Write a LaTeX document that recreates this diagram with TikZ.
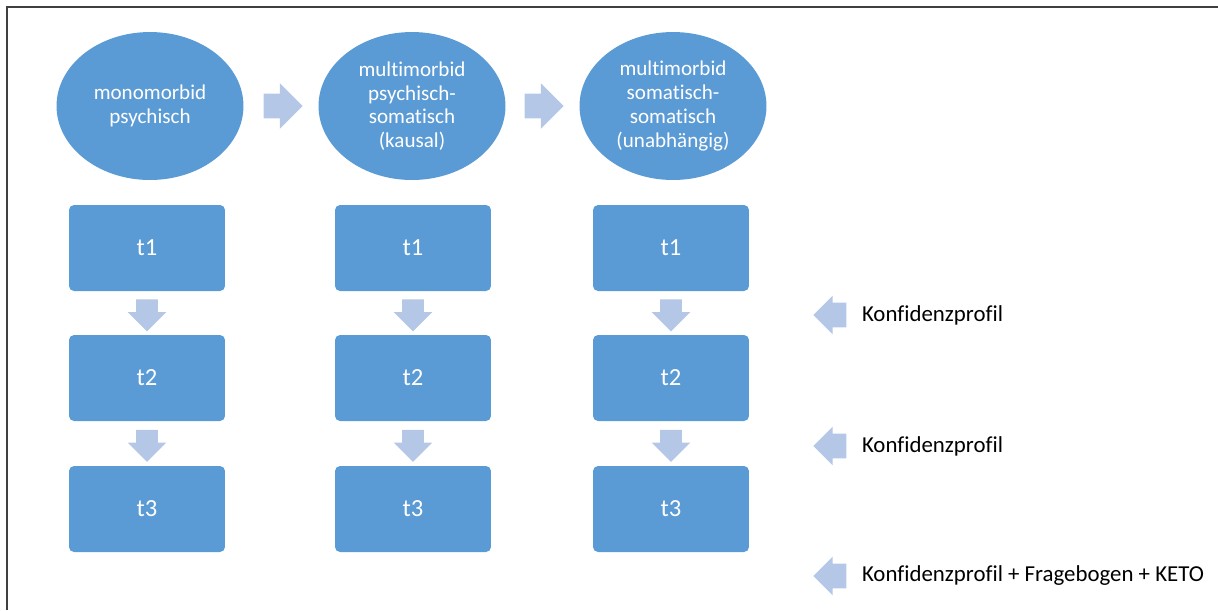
\documentclass[tikz,border=0pt]{standalone}
\usepackage{fontspec}
\setmainfont{Carlito}[Ligatures=NoCommon]
\usetikzlibrary{shapes.geometric,shapes.arrows,positioning,calc}

\definecolor{boxblue}{RGB}{91,155,213}
\definecolor{arrowblue}{RGB}{180,199,231}

\begin{document}
\begin{tikzpicture}
    [x=0.02cm,y=-0.02cm,
    stage/.style={ellipse,fill=boxblue,text=white,inner sep=0pt,
    minimum width=3.74cm,minimum height=2.96cm,align=center,
    font=\fontsize{12}{13.5}\selectfont},
    tbox/.style={rectangle,rounded corners=0.1cm,fill=boxblue,text=white,
    minimum width=3.12cm,minimum height=1.72cm,font=\fontsize{14}{16}\selectfont},
    rarrow/.style={single arrow,fill=arrowblue,inner xsep=0.02cm,inner ysep=0.24cm,
    minimum height=0.78cm,single arrow head extend=0.21cm},
    darrow/.style={single arrow,fill=arrowblue,inner xsep=0.21cm,inner ysep=0.02cm,
    shape border rotate=270,minimum height=0.64cm,single arrow head extend=0.17cm,
    yshift=0.06cm},
    larrow/.style={single arrow,fill=arrowblue,inner xsep=0.02cm,inner ysep=0.24cm,
    shape border rotate=180,minimum height=0.66cm,single arrow head extend=0.14cm},
    note/.style={inner sep=0pt,font=\fontsize{13}{15}\selectfont}]
    \useasboundingbox (0,0) rectangle (1218,610);
    \draw[black!75,line width=0.8pt] (7,610) |- (1218,7);

    % stages
    \node[stage] (mono) at (150,106) {monomorbid\\psychisch};
    \node[stage] (kausal) at (412,106) {multimorbid\\psychisch-\\somatisch\\(kausal)};
    \node[stage] (unabh) at (673,106) {multimorbid\\somatisch-\\somatisch\\(unabh\"angig)};
    \node[rarrow] (r1) at (277,106) {};
    \node[rarrow] (r2) at (538,106) {};

    % time points
    \foreach \col/\x in {a/147,b/413,c/671} {
        \node[tbox] (\col1) at (\x,248) {t1};
        \node[tbox] (\col2) at (\x,378) {t2};
        \node[tbox] (\col3) at (\x,509) {t3};
        \node[darrow] (\col12) at ($(\col1.south)!0.5!(\col2.north)$) {};
        \node[darrow] (\col23) at ($(\col2.south)!0.5!(\col3.north)$) {};
    }

    % profiles
    \node[larrow] (l1) at (836,315) {};
    \node[larrow] (l2) at (836,446) {};
    \node[larrow] (l3) at (836,576) {};
    \node[note] (k1) [right=0.3cm of l1] {Konfidenzprofil};
    \node[note] (k2) [right=0.3cm of l2] {Konfidenzprofil};
    \node[note] (k3) [right=0.3cm of l3] {Konfidenzprofil + Fragebogen + KETO};
\end{tikzpicture}
\end{document}
